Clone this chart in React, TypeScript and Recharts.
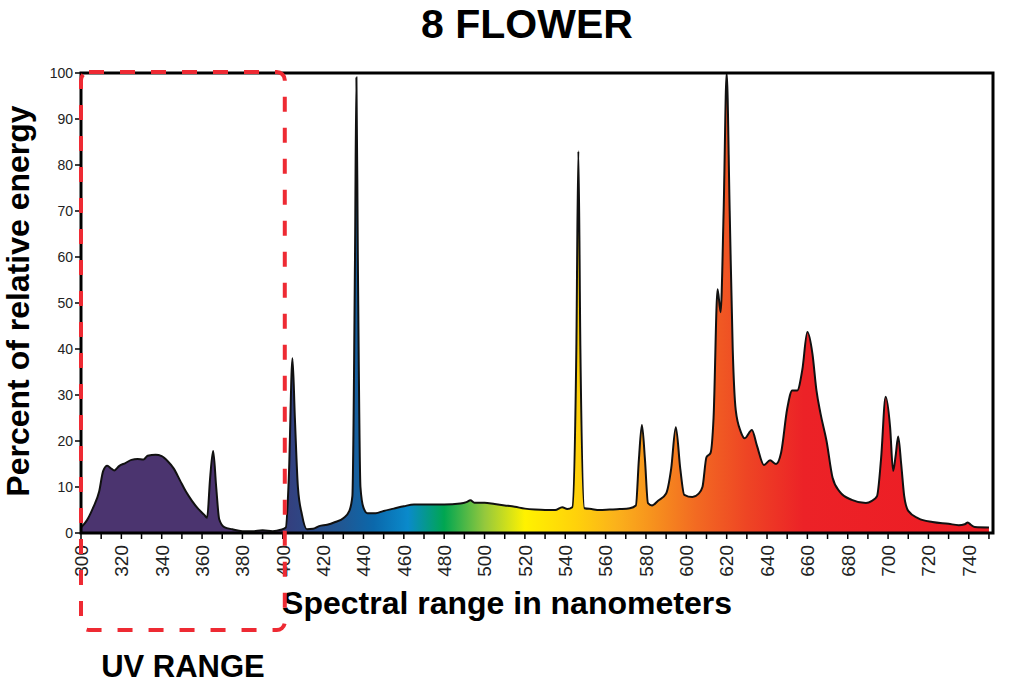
import { Area, AreaChart, ReferenceArea, XAxis, YAxis } from 'recharts';

// wavelength samples (nm) and relative energy (%)
const wavelengths = [
  300, 303, 306, 309, 311, 313, 315, 316.5, 319, 322, 325, 328, 331, 333, 337, 340, 343, 346, 349,
  352, 355, 358, 361, 362.5, 364, 365.5, 367, 368.5, 371, 375, 380, 385, 390, 395, 399, 401.5, 403,
  404.8, 406, 407.5, 409.5, 412, 415, 418, 422, 426, 430, 433, 434.5, 435.8, 436.5, 437.2, 438.5,
  440, 442, 446, 450, 455, 460, 465, 470, 480, 488, 491, 493, 495, 500, 505, 510, 515, 520, 525,
  530, 535, 538.5, 541, 543.5, 545.5, 546.5, 547.5, 549.5, 553, 557, 562, 567, 572, 575, 576.5,
  578, 579.5, 581, 583, 586, 590, 592.5, 594.8, 597, 599, 603, 606, 608, 610, 612, 613.5, 615.5,
  617, 618.5, 620, 621.5, 623, 624.5, 627, 629, 632.5, 635, 638.5, 641.5, 644.5, 647, 650, 652.5,
  655, 657.5, 660, 662.5, 664.5, 666.5, 669.5, 672.5, 676, 682, 689, 692, 694.5, 696.5, 698.8,
  701, 702.5, 703.8, 705, 706.5, 708, 710, 715, 722, 730, 735, 738, 739.5, 741, 743, 750,
];

const energy = [
  1.2, 2.8, 5.5, 9, 13.5, 14.6, 14, 13.6, 14.6, 15.2, 15.9, 16.1, 16, 16.8, 17, 16.7, 15.6, 14, 11.5,
  9, 7, 5.3, 4, 3.3, 12, 17.8, 10, 3, 1.3, 0.8, 0.4, 0.4, 0.6, 0.4, 0.7, 1.2, 12,
  38, 25, 10, 4, 0.8, 0.9, 1.5, 1.8, 2.4, 3.2, 4.8, 8, 60, 99, 60, 10,
  5.5, 4.3, 4.3, 4.8, 5.3, 5.8, 6.2, 6.2, 6.2, 6.4, 6.7, 7.1, 6.6, 6.6, 6.3, 6, 5.7, 5.3, 5.1,
  5, 5, 5.6, 5.2, 5.6, 40, 83, 40, 5.4, 5.2, 5, 5.1, 5.2, 5.4, 6, 16,
  23.5, 16, 6.5, 6, 7, 8.6, 14, 23, 14, 8.3, 7.8, 8.5, 10, 16.5, 17.4, 25, 53,
  48, 70, 100, 70, 40, 26.7, 22, 20.6, 22.4, 19, 14.8, 15.8, 15, 17.5, 27, 31,
  31, 35.5, 43.7, 39, 31, 26, 20, 12, 9, 7.2, 6.5, 7, 8, 16, 29.6,
  23, 13.5, 17, 21, 15, 8, 4.8, 3.2, 2.4, 2, 1.7, 1.9, 2.3, 1.8, 1.3, 1.2,
];

const xTicks = [
  300, 310, 320, 330, 340, 350, 360, 370, 380, 390, 400, 410, 420, 430, 440, 450, 460, 470, 480,
  490, 500, 510, 520, 530, 540, 550, 560, 570, 580, 590, 600, 610, 620, 630, 640, 650, 660, 670,
  680, 690, 700, 710, 720, 730, 740, 750,
];
const xLabels = [
  300, 320, 340, 360, 380, 400, 420, 440, 460, 480, 500, 520, 540, 560, 580, 600, 620, 640, 660,
  680, 700, 720, 740,
];
const yTicks = [0, 10, 20, 30, 40, 50, 60, 70, 80, 90, 100];

const uvRange = [300, 401];

const chartData = wavelengths.map((nm, i) => ({ nm, value: energy[i] }));

// colour along the spectrum, by wavelength
const spectrum = [
  { nm: 300, color: '#4b346f' },
  { nm: 400, color: '#4b346f' },
  { nm: 402, color: '#343f7e' },
  { nm: 430, color: '#1f5894' },
  { nm: 445, color: '#0b68ab' },
  { nm: 462, color: '#0a8acb' },
  { nm: 480, color: '#00a651' },
  { nm: 500, color: '#94c83d' },
  { nm: 520, color: '#fff200' },
  { nm: 545, color: '#ffd20a' },
  { nm: 565, color: '#fbb21b' },
  { nm: 582, color: '#f7941d' },
  { nm: 605, color: '#f26a22' },
  { nm: 630, color: '#ee4524' },
  { nm: 658, color: '#ec2227' },
  { nm: 750, color: '#ed1c24' },
];

const W = 1024;
const H = 690;
const PLOT = { left: 81, top: 73, right: 993, bottom: 533 };
const X_DOMAIN: [number, number] = [300, 752];
const Y_AXIS_W = 60;
const X_AXIS_H = 60;
const FONT = '"Liberation Sans", Arial, sans-serif';

const xPx = (nm: number) =>
  PLOT.left + ((nm - X_DOMAIN[0]) / (X_DOMAIN[1] - X_DOMAIN[0])) * (PLOT.right - PLOT.left);

function XTick(props: any) {
  const { x, y, payload } = props;
  if (!xLabels.includes(payload.value)) return null;
  const ty = y + 4;
  return (
    <text
      x={x}
      y={ty}
      transform={`rotate(-90, ${x}, ${ty})`}
      textAnchor="end"
      dy="0.36em"
      fontSize={19}
      fontFamily={FONT}
      fill="#222"
    >
      {payload.value}
    </text>
  );
}

export default function App() {
  const dataMin = wavelengths[0];
  const dataMax = wavelengths[wavelengths.length - 1];
  const boxLeft = xPx(uvRange[0]);
  const boxRight = xPx(uvRange[1]);

  return (
    <div style={{ position: 'absolute', left: 0, top: 0, width: W, height: H, background: '#fff', fontFamily: FONT }}>
      <AreaChart
        width={W}
        height={H}
        data={chartData}
        margin={{
          top: PLOT.top,
          right: W - PLOT.right,
          bottom: H - PLOT.bottom - X_AXIS_H,
          left: PLOT.left - Y_AXIS_W,
        }}
      >
        <defs>
          <linearGradient id="spectrumFill" x1="0" y1="0" x2="1" y2="0">
            {spectrum.map((s) => (
              <stop
                key={s.nm}
                offset={`${((s.nm - dataMin) / (dataMax - dataMin)) * 100}%`}
                stopColor={s.color}
              />
            ))}
          </linearGradient>
        </defs>
        <XAxis
          dataKey="nm"
          type="number"
          domain={X_DOMAIN}
          ticks={xTicks}
          interval={0}
          height={X_AXIS_H}
          axisLine={false}
          tickLine={{ stroke: '#000', strokeWidth: 1.5 }}
          tickSize={6}
          tick={<XTick />}
          allowDataOverflow
        />
        <YAxis
          type="number"
          domain={[0, 100]}
          ticks={yTicks}
          interval={0}
          width={Y_AXIS_W}
          axisLine={false}
          tickLine={{ stroke: '#000', strokeWidth: 1.5 }}
          tickSize={6}
          tickMargin={2}
          tick={{ fontSize: 14, fill: '#222', fontFamily: FONT }}
        />
        <Area
          type="monotone"
          dataKey="value"
          stroke="#111"
          strokeWidth={2}
          fill="url(#spectrumFill)"
          fillOpacity={1}
          isAnimationActive={false}
          dot={false}
          activeDot={false}
        />
        <ReferenceArea
          x1={X_DOMAIN[0]}
          x2={X_DOMAIN[1]}
          y1={0}
          y2={100}
          fill="none"
          fillOpacity={0}
          stroke="#000"
          strokeWidth={3}
        />
      </AreaChart>

      <svg
        width={W}
        height={H}
        style={{ position: 'absolute', left: 0, top: 0, pointerEvents: 'none' }}
      >
        <text x={527} y={38} textAnchor="middle" fontSize={41} fontWeight="bold" fontFamily={FONT} fill="#000">
          8 FLOWER
        </text>
        <text
          x={0}
          y={0}
          transform="translate(29, 301) rotate(-90)"
          textAnchor="middle"
          fontSize={32}
          fontWeight="bold"
          fontFamily={FONT}
          fill="#000"
        >
          Percent of relative energy
        </text>
        <text x={507} y={614} textAnchor="middle" fontSize={32} fontWeight="bold" fontFamily={FONT} fill="#000">
          Spectral range in nanometers
        </text>
        <rect
          x={boxLeft}
          y={PLOT.top - 1}
          width={boxRight - boxLeft}
          height={630 - (PLOT.top - 1)}
          rx={8}
          ry={8}
          fill="none"
          stroke="#ee2a33"
          strokeWidth={4}
          strokeDasharray="15 16"
        />
        <text x={183} y={677} textAnchor="middle" fontSize={31} fontWeight="bold" fontFamily={FONT} fill="#000">
          UV RANGE
        </text>
      </svg>
    </div>
  );
}
